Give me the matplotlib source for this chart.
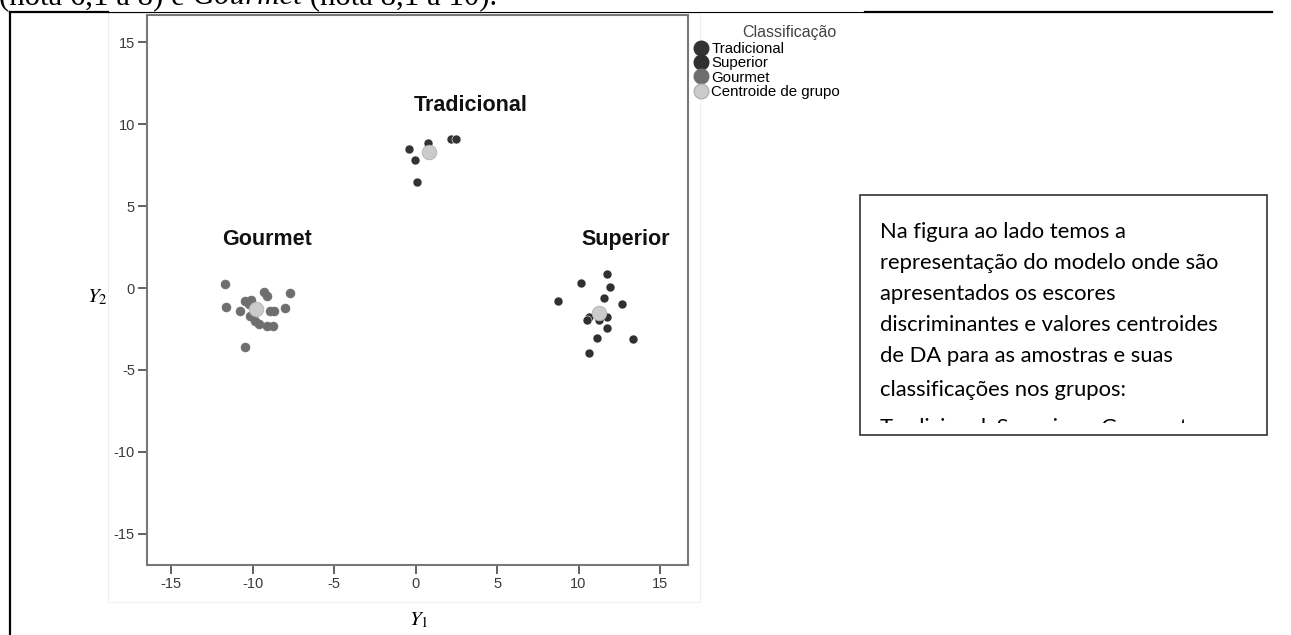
import matplotlib

matplotlib.use("Agg")
import matplotlib.pyplot as plt
from matplotlib.lines import Line2D
from matplotlib.patches import Rectangle

W, H = 1291, 635
DPI = 100

# discriminant scores
trad_y1 = [-0.39, -0.04, 0.06, 0.78, 2.16, 2.47]
trad_y2 = [8.48, 7.79, 6.50, 8.84, 9.08, 9.10]

sup_y1 = [11.76, 10.17, 11.96, 8.76, 11.59, 12.68, 10.63, 11.76, 11.76, 11.14, 13.33, 10.63, 10.53, 11.25]
sup_y2 = [0.85, 0.32, 0.04, -0.81, -0.61, -0.98, -1.79, -1.79, -2.44, -3.05, -3.11, -3.96, -1.93, -1.93]

gour_y1 = [-11.68, -11.65, -10.80, -10.49, -10.08, -9.31, -9.10, -8.96, -8.70, -8.04, -7.70,
           -10.18, -9.88, -9.61, -9.10, -8.76, -10.45, -10.20]
gour_y2 = [0.26, -1.18, -1.42, -0.77, -0.71, -0.24, -0.51, -1.42, -1.42, -1.22, -0.28,
           -1.73, -2.03, -2.20, -2.34, -2.34, -3.58, -1.00]

cent_y1 = [0.84, 11.28, -9.78]
cent_y2 = [8.33, -1.52, -1.26]

group_names = ["Tradicional", "Superior", "Gourmet"]
label_pos = [(3.4, 11.15), (12.9, 2.95), (-9.1, 2.95)]

ticks = [-15, -10, -5, 0, 5, 10, 15]

box_lines = [
    "Na figura ao lado temos a",
    "representação do modelo onde são",
    "apresentados os escores",
    "discriminantes e valores centroides",
    "de DA para as amostras e suas",
    "classificações nos grupos:",
    "Tradicional, Superior e Gourmet.",
]

C_TRAD = "#333333"
C_SUP = "#303030"
C_GOUR = "#6e6e6e"
C_CENT = "#cbcbcb"


def px(x, y):
    # pixel coords (from top-left) -> figure fraction
    return x / W, 1 - y / H


plt.rcParams["font.family"] = ["Liberation Sans", "DejaVu Sans"]
plt.rcParams["axes.unicode_minus"] = False
fig = plt.figure(figsize=(W / DPI, H / DPI), dpi=DPI)

# document frame lines
fig.add_artist(Line2D([10 / W, 10 / W], [0, 1 - 12 / H], transform=fig.transFigure, color="black", lw=1.6))
fig.add_artist(Line2D([10 / W, 108 / W], [1 - 12 / H] * 2, transform=fig.transFigure, color="black", lw=1.6))
fig.add_artist(Line2D([108 / W, 865 / W], [1 - 12 / H] * 2, transform=fig.transFigure, color="black", lw=0.8))
fig.add_artist(Line2D([865 / W, 1272 / W], [1 - 12 / H] * 2, transform=fig.transFigure, color="black", lw=1.6))

# faint border of the pasted chart image
fig.add_artist(Rectangle(px(108, 602), (700 - 108) / W, (602 - 13) / H, transform=fig.transFigure,
                         facecolor="none", edgecolor="#f1f1f1", lw=0.8))

# cropped sentence at the top of the page
renderer = fig.canvas.get_renderer()
xpos = -1
for piece, style in [("(nota 6,1 a 8) e ", "normal"), ("Gourmet", "italic"), (" (nota 8,1 a 10).", "normal")]:
    t = fig.text(xpos / W, 1 - 4 / H, piece, family="Liberation Serif", style=style, fontsize=22.2,
                 va="baseline", ha="left")
    bb = t.get_window_extent(renderer)
    xpos += bb.width

ax_left, ax_right, ax_top, ax_bot = 146.7, 687.7, 15, 565
ax = fig.add_axes([ax_left / W, 1 - ax_bot / H, (ax_right - ax_left) / W, (ax_bot - ax_top) / H])

ax.scatter(trad_y1, trad_y2, s=42, color=C_TRAD, edgecolors="white", linewidths=0.4, zorder=3)
ax.scatter(sup_y1, sup_y2, s=42, color=C_SUP, edgecolors="white", linewidths=0.4, zorder=3)
ax.scatter(gour_y1, gour_y2, s=42, color=C_GOUR, edgecolors=C_GOUR, linewidths=0.4, zorder=3)
ax.scatter(cent_y1, cent_y2, s=110, color=C_CENT, edgecolors="#b0b0b0", linewidths=0.6, zorder=4)

for name, (lx, ly) in zip(group_names, label_pos):
    ax.text(lx, ly, name, ha="center", va="center", fontsize=15.5, fontweight="bold", color="#111111")

ax.set_xlim(-16.5, 16.7)
ax.set_ylim(-16.9, 16.66)
ax.set_xticks(ticks)
ax.set_yticks(ticks)
ax.tick_params(direction="out", length=6.5, width=1.3, color="#555555", labelcolor="#3a3a3a",
               labelsize=10.5, pad=2)
for sp in ax.spines.values():
    sp.set_color("#777777")
    sp.set_linewidth(1.5)

# legend
fig.text(*px(742, 33), "Classificação", fontsize=11.5, color="#444444", va="center", ha="left")
leg_handles = [
    Line2D([0], [0], ls="none", marker="o", markersize=10.5, color=C_TRAD, label="Tradicional"),
    Line2D([0], [0], ls="none", marker="o", markersize=10.5, color=C_SUP, label="Superior"),
    Line2D([0], [0], ls="none", marker="o", markersize=10.5, color=C_GOUR, label="Gourmet"),
    Line2D([0], [0], ls="none", marker="o", markersize=10.5, color=C_CENT, markeredgecolor="#b0b0b0",
           label="Centroide de grupo"),
]
fig.legend(handles=leg_handles, loc="upper left", bbox_to_anchor=px(694, 42), frameon=False,
           fontsize=10.8, handlelength=0.9, handletextpad=0.25, labelspacing=0.02, borderpad=0,
           borderaxespad=0)

# axis labels set in the document (math italic)
fig.text(*px(97, 297), r"$Y_2$", fontsize=15, ha="center", va="center", math_fontfamily="stix")
fig.text(*px(419, 620), r"$Y_1$", fontsize=15, ha="center", va="center", math_fontfamily="stix")

# side text box
box = Rectangle(px(860, 435), (1267 - 860) / W, (435 - 195) / H, transform=fig.transFigure,
                facecolor="white", edgecolor="#333333", lw=1.2)
fig.add_artist(box)
clip = Rectangle(px(860, 423), (1267 - 860) / W, (423 - 195) / H, transform=fig.transFigure,
                 facecolor="none", edgecolor="none")
fig.add_artist(clip)
for i, line in enumerate(box_lines):
    y = 232 + 31 * i + (3 if i >= 5 else 0) + (7 if i >= 6 else 0)
    t = fig.text(*px(880, y), line, family="Lato", fontsize=15.8, color="black", va="center", ha="left")
    t.set_clip_path(clip)

fig.savefig("out.png", dpi=DPI)
